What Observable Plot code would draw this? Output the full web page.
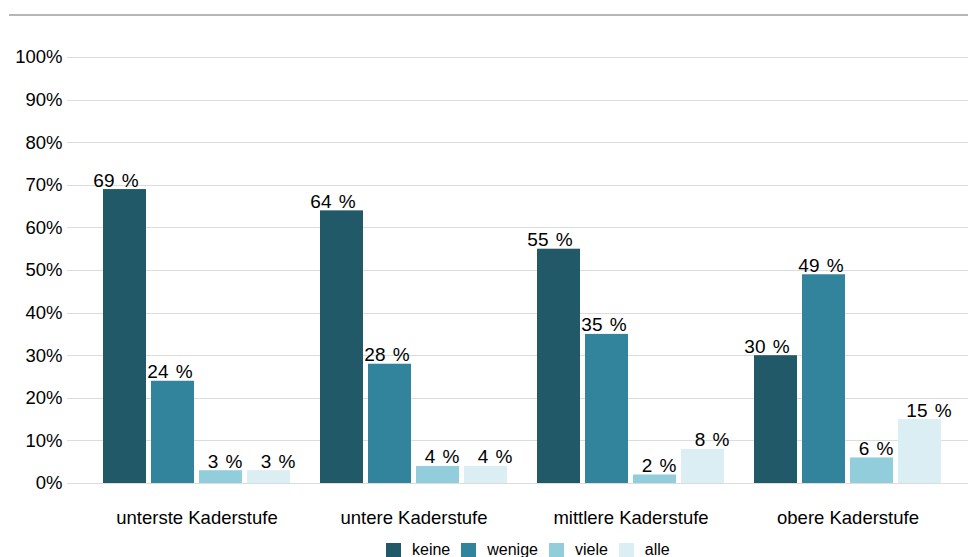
<!DOCTYPE html>
<html>
<head>
<meta charset="utf-8">
<script src="https://cdn.jsdelivr.net/npm/d3@7"></script>
<script src="https://cdn.jsdelivr.net/npm/@observablehq/plot@0.6"></script>
<style>
  html, body { margin: 0; padding: 0; background: #fff; }
  #wrap { position: relative; width: 968px; height: 557px; overflow: hidden;
          font-family: "Liberation Sans", Arial, Helvetica, sans-serif; color: #000; }
  #topline { position: absolute; left: 9px; top: 14px; width: 959px; height: 2px; background: #b6b6b6; }
  #chart { position: absolute; left: 0; top: 0; }
  #legend { position: absolute; left: 386px; top: 541px; }
  #legend, #legend * { font-family: "Liberation Sans", Arial, Helvetica, sans-serif !important; font-size: 16px !important; color: #000; }
  #legend .lg-swatches { margin: 0 !important; min-height: 0 !important; }
  #legend .lg-swatch { margin-right: 11px !important; }
  #legend .lg-swatch > svg { margin-right: 11px !important; }
  #chart g[aria-label="text"] text { word-spacing: 2px; }
  #chart g[aria-label="rule"] line { shape-rendering: crispEdges; }
</style>
</head>
<body>
<div id="wrap">
  <div id="topline"></div>
  <div id="chart"></div>
  <div id="legend"></div>
</div>
<script>
// ---- data ----
const groups = ["unterste Kaderstufe", "untere Kaderstufe", "mittlere Kaderstufe", "obere Kaderstufe"];
const series = ["keine", "wenige", "viele", "alle"];
const keine  = [69, 64, 55, 30];
const wenige = [24, 28, 35, 49];
const viele  = [3, 4, 2, 6];
const alle   = [3, 4, 8, 15];
const yTicks = [0, 10, 20, 30, 40, 50, 60, 70, 80, 90, 100];
const colors = ["#215968", "#31849b", "#92cddc", "#daeef3"];

const valuesBySeries = {keine, wenige, viele, alle};
const data = [];
groups.forEach((g, i) => {
  series.forEach(s => data.push({group: g, series: s, value: valuesBySeries[s][i]}));
});
const gridData = groups.flatMap(g => yTicks.map(v => ({group: g, y: v})));

// label offsets (style, matching the reference's label placement)
const labelShift = {keine: -9, wenige: -3, viele: 4, alle: 9};
const font = "'Liberation Sans', Arial, Helvetica, sans-serif";
const gridStroke = "#dcdcdc";
const first = groups[0], last = groups[groups.length - 1];

const labelMarks = series.map(s =>
  Plot.text(data.filter(d => d.series === s), {
    fx: "group", x: "series", y: "value",
    text: d => d.value + " %",
    dx: labelShift[s], dy: -3,
    lineAnchor: "bottom", textAnchor: "middle",
    fontSize: 19, fill: "#000"
  })
);

const chart = Plot.plot({
  width: 968,
  height: 538,
  marginLeft: 88,
  marginRight: 12,
  marginTop: 57,
  marginBottom: 55,
  style: {fontFamily: font, fontSize: "18.5px", color: "#000", background: "transparent", overflow: "visible"},
  fx: {domain: groups, padding: 0, tickSize: 0, tickPadding: 27, label: null},
  x: {domain: series, axis: null, paddingInner: 0.1, paddingOuter: 0.265},
  y: {domain: [0, 100], ticks: yTicks, tickFormat: d => d + "%", tickSize: 0, tickPadding: 26, label: null},
  color: {domain: series, range: colors},
  marks: [
    Plot.ruleY(gridData.filter(d => d.group === first), {fx: "group", y: "y", stroke: gridStroke, insetLeft: -21}),
    Plot.ruleY(gridData.filter(d => d.group !== first && d.group !== last), {fx: "group", y: "y", stroke: gridStroke}),
    Plot.ruleY(gridData.filter(d => d.group === last), {fx: "group", y: "y", stroke: gridStroke, insetRight: -12}),
    Plot.barY(data, {fx: "group", x: "series", y: "value", fill: "series"}),
    ...labelMarks
  ]
});
document.getElementById("chart").appendChild(chart);

const legend = Plot.legend({
  legend: "swatches",
  color: {domain: series, range: colors},
  swatchSize: 15,
  className: "lg"
});
document.getElementById("legend").appendChild(legend);
</script>
</body>
</html>
